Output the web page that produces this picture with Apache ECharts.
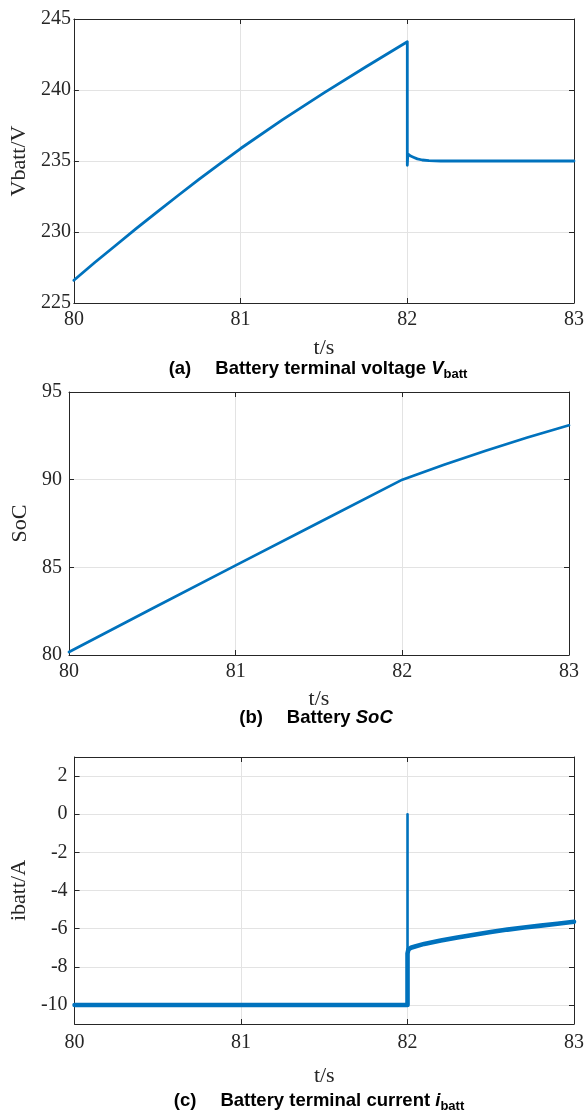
<!DOCTYPE html>
<html>
<head>
<meta charset="utf-8">
<script src="https://cdn.jsdelivr.net/npm/echarts@6/dist/echarts.min.js"></script>
<style>
html,body{margin:0;padding:0;background:#fff;}
#chart{width:587px;height:1113px;}
</style>
</head>
<body>
<div id="chart"></div>
<script>
// ---- data ----
var xTicks = [80, 81, 82, 83];
// (a) battery terminal voltage
var timeA = [80, 80.125, 80.25, 80.375, 80.5, 80.625, 80.75, 80.875, 81, 81.25, 81.5, 81.75, 82, 82, 82.003, 82.02, 82.04, 82.06, 82.09, 82.13, 82.2, 83];
var voltA = [226.6, 227.85, 229.05, 230.25, 231.42, 232.57, 233.7, 234.8, 235.88, 237.9, 239.8, 241.62, 243.4, 234.7, 235.5, 235.35, 235.25, 235.15, 235.07, 235.02, 235.0, 235.0];
var yTicksA = [225, 230, 235, 240, 245];
// (b) SoC
var timeB = [80, 80.5, 81, 81.5, 82, 82.25, 82.5, 82.75, 83];
var socB = [80.17, 82.65, 85.11, 87.56, 90.0, 90.85, 91.65, 92.4, 93.1];
var yTicksB = [80, 85, 90, 95];
// (c) battery terminal current
var timeC = [80, 81, 82, 82, 82.005, 82.02, 82.05, 82.1, 82.2, 82.3, 82.4, 82.5, 82.6, 82.7, 82.8, 82.9, 83];
var currC = [-10, -10, -10, -7.3, -7.1, -7.0, -6.92, -6.8, -6.62, -6.46, -6.32, -6.18, -6.05, -5.94, -5.84, -5.74, -5.64];
var spikeT = [82, 82, 82];
var spikeI = [-10, 0, -7.2];
var yTicksC = [-10, -8, -6, -4, -2, 0, 2];

var captions = [
  {tag: '(a)', text: 'Battery terminal voltage ', sym: 'V', sub: 'batt'},
  {tag: '(b)', text: 'Battery ', sym: 'SoC', sub: ''},
  {tag: '(c)', text: 'Battery terminal current ', sym: 'i', sub: 'batt'}
];
var yNames = ['Vbatt/V', 'SoC', 'ibatt/A'];
var xName = 't/s';

function pairs(xs, ys) { return xs.map(function (x, i) { return [x, ys[i]]; }); }

// ---- layout / style ----
var AX = '#262626';
var GRIDC = '#e3e3e3';
var BLUE = '#0072BD';
var SERIF = 'Liberation Serif';
var grids = [
  {left: 67, top: 19, width: 508, height: 284},
  {left: 69, top: 392, width: 500, height: 263},
  {left: 74, top: 757, width: 503, height: 267}
];
var yCfg = [
  {min: 225, max: 245, interval: 5, ticks: yTicksA, labMargin: 3, nameGap: 36},
  {min: 80, max: 95, interval: 5, ticks: yTicksB, labMargin: 7, nameGap: 29},
  {min: -11, max: 3, interval: 2, ticks: yTicksC, labMargin: 7, nameGap: 35}
];
var xCfg = [
  {labMargin: 7, nameGap: 34},
  {labMargin: 7, nameGap: 33},
  {labMargin: 9, nameGap: 41}
];
var capY = [369, 718, 1101];
var capX = [318, 316, 319];

var xAxes = [], yAxes = [];
var tickStyle = {inside: true, length: 5, lineStyle: {color: AX, width: 1}};
var lineStyleAx = {show: true, onZero: false, lineStyle: {color: AX, width: 1}};
grids.forEach(function (g, i) {
  xAxes.push({
    type: 'value', gridIndex: i, min: 80, max: 83, interval: 1, position: 'bottom',
    axisLine: lineStyleAx, axisTick: tickStyle,
    axisLabel: {color: AX, fontFamily: SERIF, fontSize: 20, margin: xCfg[i].labMargin,
      customValues: xTicks},
    splitLine: {show: true, lineStyle: {color: GRIDC, width: 1}},
    name: xName, nameLocation: 'middle', nameGap: xCfg[i].nameGap,
    nameTextStyle: {color: AX, fontFamily: SERIF, fontSize: 22}
  });
  xAxes.push({
    type: 'value', gridIndex: i, min: 80, max: 83, interval: 1, position: 'top',
    axisLine: lineStyleAx, axisTick: tickStyle, axisLabel: {show: false},
    splitLine: {show: false}
  });
  var c = yCfg[i];
  var yBase = {
    type: 'value', gridIndex: i, min: c.min, max: c.max, interval: c.interval
  };
  yAxes.push(Object.assign({}, yBase, {
    position: 'left',
    axisLine: lineStyleAx,
    axisTick: Object.assign({}, tickStyle, {customValues: c.ticks}),
    axisLabel: {color: AX, fontFamily: SERIF, fontSize: 20, margin: c.labMargin, customValues: c.ticks},
    splitLine: {show: true, lineStyle: {color: GRIDC, width: 1}},
    name: yNames[i], nameLocation: 'middle', nameGap: c.nameGap, nameRotate: 90,
    nameTextStyle: {color: AX, fontFamily: SERIF, fontSize: 22}
  }));
  yAxes.push(Object.assign({}, yBase, {
    position: 'right',
    axisLine: lineStyleAx,
    axisTick: Object.assign({}, tickStyle, {customValues: c.ticks}),
    axisLabel: {show: false, customValues: c.ticks},
    splitLine: {show: false}
  }));
});

function lineSeries(gi, data, width) {
  return {
    type: 'line', xAxisIndex: gi * 2, yAxisIndex: gi * 2, data: data,
    showSymbol: false, symbol: 'none', animation: false, silent: true,
    lineStyle: {color: BLUE, width: width, join: 'round', cap: 'round'}
  };
}

var series = [
  lineSeries(0, pairs(timeA, voltA), 2.8),
  lineSeries(1, pairs(timeB, socB), 2.7),
  lineSeries(2, pairs(spikeT, spikeI), 2.6),
  lineSeries(2, pairs(timeC, currC), 4.6)
];

var CAPF = 18.5;
var graphics = captions.map(function (cp, i) {
  var txt = '{n|' + cp.tag + '}{g| }{n|' + cp.text + '}{s|' + cp.sym + '}' + (cp.sub ? '{b|' + cp.sub + '}' : '');
  return {
    type: 'text', x: capX[i], y: capY[i],
    style: {
      text: txt, align: 'center', verticalAlign: 'middle',
      rich: {
        n: {fontFamily: 'Liberation Sans', fontWeight: 'bold', fontSize: CAPF, fill: '#000', lineHeight: 24},
        g: {fontFamily: 'Liberation Sans', fontWeight: 'bold', fontSize: CAPF, fill: '#000', lineHeight: 24, width: 24},
        s: {fontFamily: 'Liberation Sans', fontWeight: 'bold', fontStyle: 'italic', fontSize: CAPF, fill: '#000', lineHeight: 24},
        b: {fontFamily: 'Liberation Sans', fontWeight: 'bold', fontSize: 13, fill: '#000', lineHeight: 17, verticalAlign: 'bottom'}
      }
    }
  };
});

var chart = echarts.init(document.getElementById('chart'), null, {renderer: 'canvas'});
chart.setOption({
  backgroundColor: '#fff',
  animation: false,
  grid: grids,
  xAxis: xAxes,
  yAxis: yAxes,
  series: series,
  graphic: graphics
});
</script>
</body>
</html>
